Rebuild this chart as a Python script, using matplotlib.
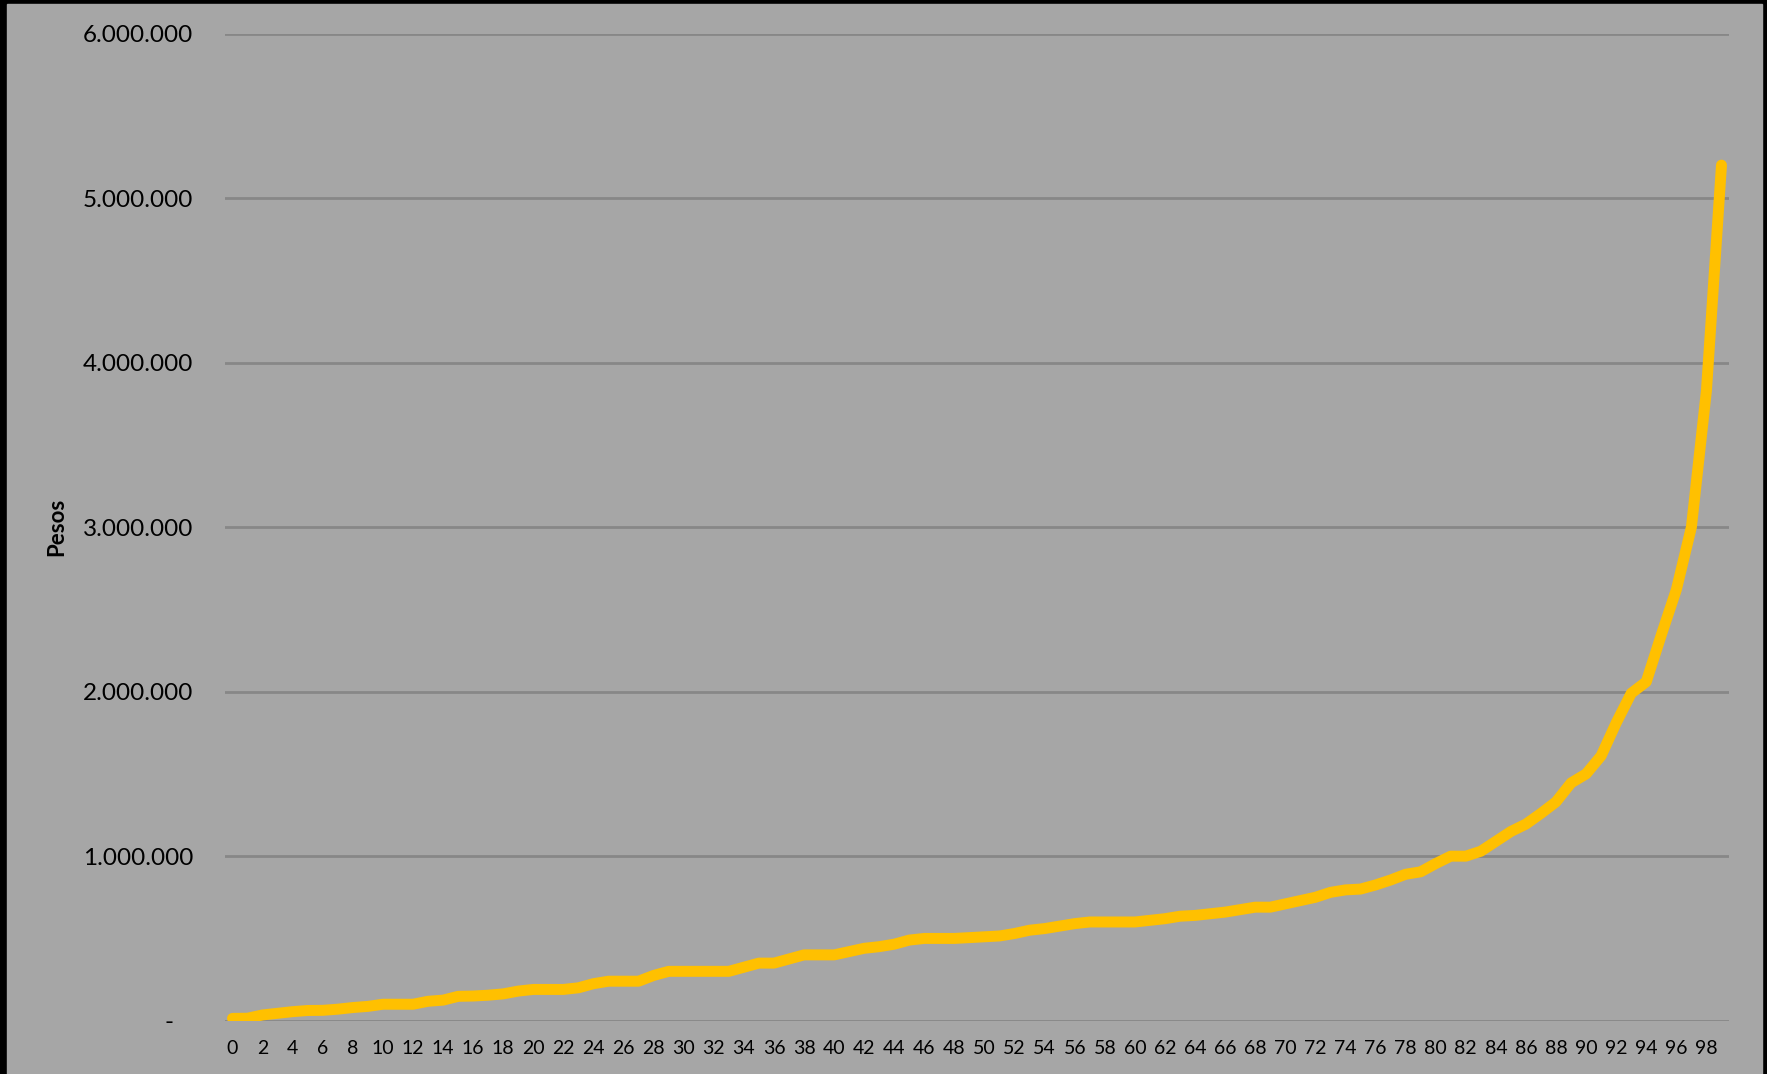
import numpy as np
import matplotlib
matplotlib.use("Agg")
import matplotlib.pyplot as plt
from matplotlib.patches import Rectangle
from matplotlib.ticker import FuncFormatter

# percentil vs ingreso (pesos)
percentil = list(range(100))
pesos = [
    14000, 15000, 35000, 45000, 55000, 62000, 63000, 70000, 80000, 87000,
    100000, 100000, 100000, 118000, 125000, 148000, 150000, 155000, 163000, 180000,
    190000, 190000, 190000, 200000, 225000, 240000, 240000, 240000, 275000, 300000,
    300000, 300000, 300000, 300000, 325000, 350000, 350000, 375000, 400000, 400000,
    400000, 420000, 440000, 450000, 465000, 490000, 500000, 500000, 500000, 505000,
    510000, 515000, 530000, 550000, 560000, 575000, 590000, 600000, 600000, 600000,
    600000, 610000, 620000, 635000, 640000, 650000, 660000, 675000, 690000, 690000,
    710000, 730000, 750000, 780000, 795000, 800000, 825000, 855000, 890000, 905000,
    955000, 1000000, 1000000, 1030000, 1090000, 1150000, 1195000, 1260000, 1330000, 1445000,
    1500000, 1610000, 1810000, 1990000, 2060000, 2345000, 2620000, 3000000, 3830000, 5200000,
]
yticks = [0, 1000000, 2000000, 3000000, 4000000, 5000000, 6000000]
xticks = list(range(0, 100, 2))

W, H = 1767, 1074
bg = "#A6A6A6"
grid_c = "#878787"

plt.rcParams["font.family"] = ["Lato", "DejaVu Sans"]

fig = plt.figure(figsize=(W / 100, H / 100), dpi=100, facecolor="black")
# grey panel inside the black frame
fig.add_artist(Rectangle((7 / W, 0), (1762 - 7) / W, 1070 / H,
                         transform=fig.transFigure, color=bg, zorder=0))

ax = fig.add_axes([225 / W, 53.3 / H, (1729 - 225) / W, (1020.7 - 33.5) / H])
ax.set_facecolor(bg)

ax.plot(percentil, pesos, color="#FFC000", lw=7.9,
        solid_joinstyle="round", solid_capstyle="round", zorder=3)

ax.set_xlim(-0.5, 99.5)
ax.set_ylim(0, 6000000)
ax.set_yticks(yticks)
ax.set_xticks(xticks)


def fmt(v, pos):
    if v == 0:
        return "-   "
    return f"{int(v):,}".replace(",", ".")


ax.yaxis.set_major_formatter(FuncFormatter(fmt))
ax.tick_params(axis="y", length=0, pad=23, labelsize=17.5, colors="black")
ax.tick_params(axis="x", length=0, pad=14, labelsize=14, colors="black")
ax.grid(axis="y", color=grid_c, lw=2)
ax.set_axisbelow(True)
for s in ax.spines.values():
    s.set_visible(False)

ax.set_ylabel("Pesos", fontsize=16, fontweight="bold")
ax.yaxis.set_label_coords(-0.105, 0.5)

fig.savefig("out.png", dpi=100, facecolor=fig.get_facecolor())
